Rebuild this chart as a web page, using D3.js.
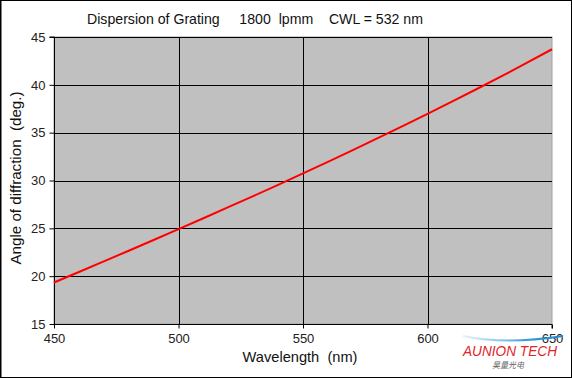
<!DOCTYPE html>
<html><head><meta charset="utf-8">
<script src="https://cdn.jsdelivr.net/npm/d3@7/dist/d3.min.js"></script>
<style>
html,body{margin:0;padding:0;background:#fff;}
svg{display:block;font-family:"Liberation Sans",Arial,sans-serif;}
</style></head>
<body>
<svg id="c" width="572" height="378"></svg>
<script>
const wavelengths = [450,460,470,480,490,500,510,520,530,540,550,560,570,580,590,600,610,620,630,640,650];
const angles = [19.34,20.44,21.54,22.66,23.78,24.91,26.05,27.21,28.37,29.55,30.75,31.95,33.18,34.42,35.68,36.96,38.26,39.59,40.93,42.32,43.72];
const xTicks = [450,500,550,600,650];
const yTicks = [15,20,25,30,35,40,45];
const titleText = "Dispersion of Grating     1800  lpmm    CWL = 532 nm";
const xLabel = "Wavelength  (nm)";
const yLabel = "Angle of diffraction  (deg.)";

const svg = d3.select("#c");
const L=54, R=552, T=37, B=324;
const x = d3.scaleLinear().domain([450,650]).range([L,R]);
const y = d3.scaleLinear().domain([15,45]).range([B,T]);

svg.append("rect").attr("x",0.5).attr("y",0.5).attr("width",571).attr("height",377)
  .attr("fill","#fff").attr("stroke","#000").attr("stroke-width",1);
svg.append("line").attr("x1",1).attr("x2",1).attr("y1",0).attr("y2",378).attr("stroke","#000");

svg.append("rect").attr("x",L).attr("y",T).attr("width",R-L).attr("height",B-T)
  .attr("fill","#c0c0c0").attr("stroke","#a0a0a0").attr("stroke-width",1);

// grid
const g = svg.append("g");
g.selectAll(".vg").data(xTicks.slice(1,-1)).enter().append("line")
  .attr("x1",d=>Math.round(x(d))+0.5).attr("x2",d=>Math.round(x(d))+0.5)
  .attr("y1",T).attr("y2",B).attr("stroke","#000");
g.selectAll(".hg").data(yTicks.slice(1)).enter().append("line")
  .attr("x1",L).attr("x2",R).attr("y1",d=>Math.round(y(d))+0.5).attr("y2",d=>Math.round(y(d))+0.5)
  .attr("stroke","#000");

// axes
const xAxis = d3.axisBottom(x).tickValues(xTicks).tickSize(4).tickPadding(5).tickFormat(d3.format("d"));
const yAxis = d3.axisLeft(y).tickValues(yTicks).tickSize(5).tickPadding(4).tickFormat(d3.format("d"));
const ga = svg.append("g").attr("transform",`translate(0,${B+0.5})`).call(xAxis);
const gy = svg.append("g").attr("transform",`translate(${L+0.5},0)`).call(yAxis);
[ga,gy].forEach(a=>{
  a.select(".domain").attr("stroke","#000");
  a.selectAll(".tick line").attr("stroke","#000");
  a.selectAll("text").attr("font-size",13).attr("fill","#222").attr("font-family","Liberation Sans, Arial, sans-serif");
});
gy.select(".domain").attr("d",`M-5,${T}H0V${B}`);
ga.select(".domain").attr("d",`M${L},0H${R}V4`);

// line
svg.append("path").datum(wavelengths.map((w,i)=>[w,angles[i]]))
  .attr("fill","none").attr("stroke","#ff0000").attr("stroke-width",2)
  .attr("d",d3.line().x(d=>x(d[0])).y(d=>y(d[1])));

// texts
svg.append("text").attr("x",255).attr("y",24).attr("text-anchor","middle")
  .attr("font-size",15).attr("fill","#111").style("white-space","pre")
  .attr("textLength",336).attr("lengthAdjust","spacingAndGlyphs").text(titleText);
svg.append("text").attr("x",300).attr("y",362).attr("text-anchor","middle")
  .attr("font-size",15).attr("fill","#111").style("white-space","pre")
  .attr("textLength",115).attr("lengthAdjust","spacingAndGlyphs").text(xLabel);
svg.append("text").attr("transform","translate(21,178) rotate(-90)").attr("text-anchor","middle")
  .attr("font-size",15).attr("fill","#111").style("white-space","pre")
  .attr("textLength",173).attr("lengthAdjust","spacingAndGlyphs").text(yLabel);

// logo
const defs = svg.append("defs");
const lg = defs.append("linearGradient").attr("id","sw").attr("x1","0").attr("x2","1");
lg.append("stop").attr("offset","0").attr("stop-color","#9fd0ee").attr("stop-opacity",0.3);
lg.append("stop").attr("offset","0.6").attr("stop-color","#3aa0dc");
lg.append("stop").attr("offset","1").attr("stop-color","#1e88cc");
svg.append("path").attr("d","M463,336 Q505,345 563,336").attr("fill","none")
  .attr("stroke","url(#sw)").attr("stroke-width",2);
svg.append("text").attr("x",510).attr("y",356).attr("text-anchor","middle")
  .attr("font-size",15).attr("font-style","italic").attr("fill","#e0262b")
  .attr("textLength",94).attr("lengthAdjust","spacingAndGlyphs").text("AUNION TECH");
svg.append("text").attr("x",508).attr("y",368).attr("text-anchor","middle")
  .attr("font-size",8).attr("font-style","italic").attr("fill","#666")
  .attr("font-family","Noto Sans CJK SC").text("昊量光电");
</script>
</body></html>
